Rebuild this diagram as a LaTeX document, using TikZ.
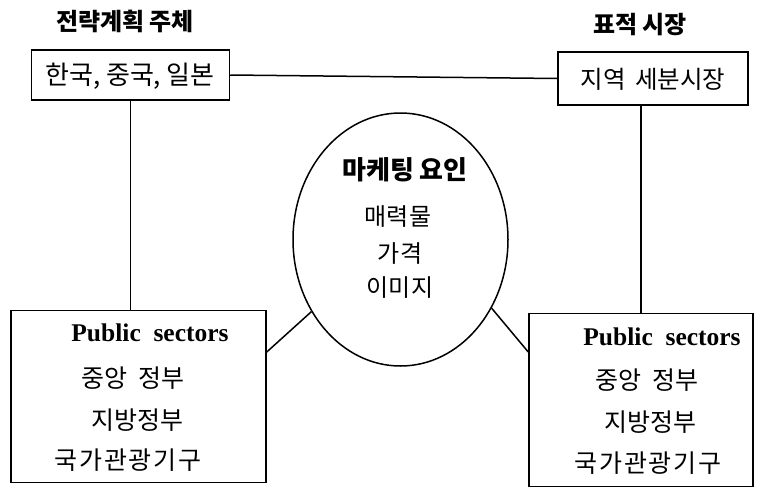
\documentclass[tikz,border=0pt]{standalone}
\usepackage{fontspec}
\setmainfont{Liberation Serif}
\newfontfamily\kr{Noto Sans CJK KR}
\newfontfamily\krw{Noto Sans CJK KR}[LetterSpace=7]
\usetikzlibrary{shapes.geometric}
\tikzset{
  box/.style={draw, line width=1.5pt, rectangle, inner sep=0pt},
  conn/.style={line width=1.5pt},
  krt/.style={font=\kr\fontsize{25}{29}\selectfont, inner sep=0pt, anchor=center},
  kre/.style={font=\kr\fontsize{24}{28}\selectfont, inner sep=0pt, anchor=center},
  krb/.style={font=\kr\bfseries\fontsize{26}{30}\selectfont, inner sep=0pt, anchor=center},
  ttl/.style={font=\kr\bfseries\fontsize{24}{28}\selectfont, inner sep=0pt, anchor=center},
  pub/.style={font=\bfseries\fontsize{25.5}{29}\selectfont, inner sep=0pt, anchor=center},
}
\begin{document}
\begin{tikzpicture}[x=1pt, y=-1pt]
\useasboundingbox (0,0) rectangle (758,488);
% titles
\node[ttl] (t1) at (125,21) {전략계획 주체};
\node[ttl] (t2) at (640,25) {표적 시장};
% boxes
\node[box, minimum width=198, minimum height=50] (b1) at (130.5,75) {};
\node[box, minimum width=190, minimum height=53] (b2) at (653,78.5) {};
\node[box, minimum width=255, minimum height=172] (b3) at (138.5,396.5) {};
\node[box, minimum width=224, minimum height=173] (b4) at (641,400) {};
\node[draw, line width=1.5pt, ellipse, inner sep=0pt, minimum width=215, minimum height=253] (el) at (400.5,239.5) {};
% box texts
\node[krt, font=\kr\fontsize{26}{30}\selectfont] (b1t) at (130,76) {한국, 중국, 일본};
\node[krt, font=\kr\fontsize{24.5}{29}\selectfont] (b2t) at (653,79) {지역\hspace{4pt} 세분시장};
\node[pub] (p3) at (150,333) {Public\ \ sectors};
\node[krt] (c3) at (133,378) {중앙\hspace{6pt} 정부};
\node[krt] (l3) at (137,420) {지방정부};
\node[krt, font=\krw\fontsize{25}{29}\selectfont] (n3) at (128,460) {국가관광기구};
\node[pub] (p4) at (662,337) {Public\ \ sectors};
\node[krt] (c4) at (647,380) {중앙\hspace{6pt} 정부};
\node[krt] (l4) at (650,422) {지방정부};
\node[krt, font=\krw\fontsize{25}{29}\selectfont] (n4) at (648,463) {국가관광기구};
% ellipse texts
\node[krb] (m1) at (405,170) {마케팅 요인};
\node[kre] (m2) at (398,217) {매력물};
\node[kre] (m3) at (400,253) {가격};
\node[kre] (m4) at (400,288) {이미지};
% connectors
\draw[conn] (b1.east) -- (b2.west);
\draw[conn] (b1.south) -- (b1.south |- b3.north);
\draw[conn] (b4.north) -- (b4.north |- b2.south);
\coordinate (b3r) at (b3.east |- 0,352);
\coordinate (b4l) at (b4.west |- 0,352);
\draw[conn] (b3r) -- (el.219);
\draw[conn] (b4l) -- (el.323);
\end{tikzpicture}
\end{document}
